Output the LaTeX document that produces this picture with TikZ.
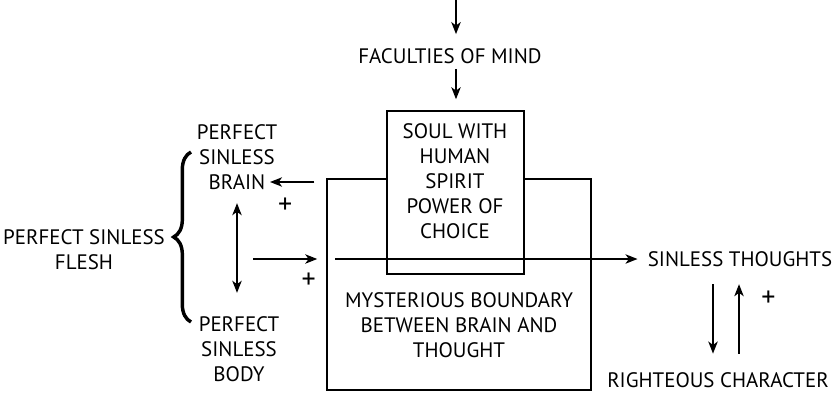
\documentclass[tikz,border=0pt]{standalone}
\usepackage{fontspec}
\setmainfont{PT Sans}
\usepackage{tikz}
\usetikzlibrary{positioning}
\usetikzlibrary{arrows.meta}
\usetikzlibrary{calc,decorations.pathreplacing}

\begin{document}
\begin{tikzpicture}[x=0.75pt,y=-0.75pt]
	\useasboundingbox (0,0) rectangle (837,393);

	% boxes
	\begin{scope}[every node/.style={draw,line width=1.1pt,inner sep=0pt}]
	    \node (Bound) [minimum width=198pt, minimum height=158.25pt] at (459,284.5) {};
	    \node (Soul) [fill=white, minimum width=102.75pt, minimum height=122.25pt] at (455.5,192.5) {};
	\end{scope}

	\begin{scope}[every node/.style={align=center,inner sep=0pt,font=\fontsize{15.7}{18.75}\selectfont}]
	    \node (Fac) at (450,56) {FACULTIES OF MIND};
	    \node (SoulT) at (455,181) {SOUL WITH\\HUMAN\\SPIRIT\\POWER OF\\CHOICE};
	    \node (BoundT) at (459,325) {MYSTERIOUS BOUNDARY\\BETWEEN BRAIN AND\\THOUGHT};
	    \node (Brain) at (237,157) {PERFECT\\SINLESS\\BRAIN};
	    \node (Body) at (239,349) {PERFECT\\SINLESS\\BODY};
	    \node (Flesh) at (84,250) {PERFECT SINLESS\\FLESH};
	    \node (Thoughts) at (740,259) {SINLESS THOUGHTS};
	    \node (Char) at (718,380) {RIGHTEOUS CHARACTER};
	\end{scope}

	\coordinate (Top) at (456,0);
	\coordinate (BrainIn) at (270,182);
	\coordinate (FleshOut) at (253,259);

	\draw [line width=2.6pt, decorate, decoration={brace,amplitude=13pt}] (191,322) -- (191,152);

	\begin{scope}[>={Stealth[length=9pt,width=7pt,inset=2.5pt]},
	              every edge/.style={draw=black,line width=1.4pt},
	              every node/.style={font=\fontsize{21}{24}\selectfont,inner sep=0pt}]
    	\path [->] (Top) edge[shorten >=10.5pt] (Top |- Fac.north);
    	\path [->] (Top |- Fac.south) edge[shorten <=3.75pt, shorten >=8.25pt] (Top |- Soul.north);
    	\path [->] (Bound.west |- BrainIn) edge[shorten <=9pt] node[pos=0.73, below=11pt] {+} (BrainIn);
    	\path [<->] (Brain.south) edge[shorten <=10pt, shorten >=17.5pt] (Brain.south |- Body.north);
    	\path [->] (FleshOut) edge[shorten >=6.75pt] node[pos=0.76, below=9.5pt] {+} (FleshOut -| Bound.west);
    	\path [->] (Bound.west |- Thoughts) edge[shorten <=6.75pt, shorten >=7.5pt] (Thoughts.west);
    	\path [->] ([xshift=-20.25pt]Thoughts.south) edge[shorten <=13pt, shorten >=13.9pt] ([xshift=-20.25pt]Thoughts.south |- Char.north);
    	\path [->] ([xshift=-0.75pt]Thoughts.south |- Char.north) edge[shorten <=13.9pt, shorten >=13pt] node[pos=0.7, right=16pt] {+} ([xshift=-0.75pt]Thoughts.south);
	\end{scope}
\end{tikzpicture}
\end{document}
